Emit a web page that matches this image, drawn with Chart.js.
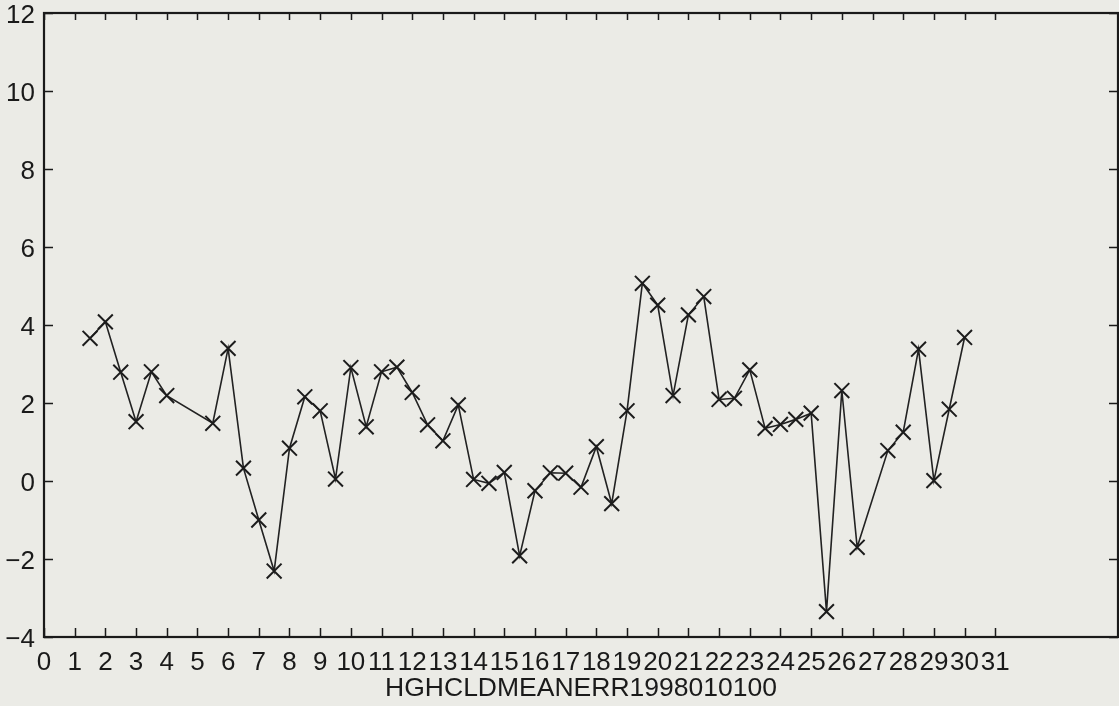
<!DOCTYPE html>
<html>
<head>
<meta charset="utf-8">
<title>HGHCLDMEANERR1998010100</title>
<script src="https://cdn.jsdelivr.net/npm/chart.js@4/dist/chart.umd.min.js"></script>
<style>
  html, body { margin: 0; padding: 0; background: #ebebe6; }
  #wrap { width: 1119px; height: 706px; }
</style>
</head>
<body>
<div id="wrap"><canvas id="c" width="1119" height="706"></canvas></div>
<script>
// Time of each analysis (day of month, 00 and 12 UTC) and the mean error
const days = [1.5, 2, 2.5, 3, 3.5, 4, 5.5, 6, 6.5, 7, 7.5, 8, 8.5, 9, 9.5,
  10, 10.5, 11, 11.5, 12, 12.5, 13, 13.5, 14, 14.5, 15, 15.5, 16, 16.5, 17,
  17.5, 18, 18.5, 19, 19.5, 20, 20.5, 21, 21.5, 22, 22.5, 23, 23.5, 24, 24.5,
  25, 25.5, 26, 26.5, 27.5, 28, 28.5, 29, 29.5, 30];
const meanErr = [3.66, 4.08, 2.79, 1.52, 2.80, 2.19, 1.48, 3.40, 0.33, -1.00,
  -2.31, 0.84, 2.16, 1.80, 0.05, 2.91, 1.39, 2.80, 2.92, 2.27, 1.44, 1.03,
  1.95, 0.04, -0.06, 0.22, -1.92, -0.25, 0.21, 0.20, -0.16, 0.88, -0.58, 1.80,
  5.07, 4.51, 2.19, 4.26, 4.73, 2.09, 2.12, 2.85, 1.35, 1.45, 1.58, 1.74,
  -3.35, 2.32, -1.70, 0.78, 1.25, 3.38, 0.01, 1.84, 3.68];

// Axis ticks
const xTickValues = [0, 1, 2, 3, 4, 5, 6, 7, 8, 9, 10, 11, 12, 13, 14, 15,
  16, 17, 18, 19, 20, 21, 22, 23, 24, 25, 26, 27, 28, 29, 30, 31];
const yTickValues = [-4, -2, 0, 2, 4, 6, 8, 10, 12];
const yTickLabels = ['\u22124', '\u22122', '0', '2', '4', '6', '8', '10', '12'];
const xTitle = 'HGHCLDMEANERR1998010100';

const points = days.map((d, i) => ({ x: d, y: meanErr[i] }));
const FONT = '"Liberation Sans", Arial, Helvetica, sans-serif';
const INK = '#1a1a1a';

// Paper background, box frame and inward tick marks on all four sides
const framePlugin = {
  id: 'frame',
  beforeDraw(chart) {
    const ctx = chart.ctx;
    ctx.save();
    ctx.fillStyle = '#ebebe6';
    ctx.fillRect(0, 0, chart.width, chart.height);
    ctx.restore();
  },
  afterDraw(chart) {
    const { ctx, chartArea: a, scales } = chart;
    ctx.save();
    ctx.strokeStyle = INK;
    ctx.lineWidth = 1.5;
    ctx.beginPath();
    xTickValues.forEach(v => {
      const px = Math.round(scales.x.getPixelForValue(v)) + 0.5;
      ctx.moveTo(px, a.bottom); ctx.lineTo(px, a.bottom - 9);
      ctx.moveTo(px, a.top); ctx.lineTo(px, a.top + 7);
    });
    yTickValues.forEach(v => {
      const py = Math.round(scales.y.getPixelForValue(v)) + 0.5;
      ctx.moveTo(a.left, py); ctx.lineTo(a.left + 9, py);
      ctx.moveTo(a.right, py); ctx.lineTo(a.right - 9, py);
    });
    ctx.stroke();
    ctx.lineWidth = 2.2;
    ctx.strokeRect(a.left, a.top, a.right - a.left, a.bottom - a.top);
    ctx.restore();
  }
};

new Chart(document.getElementById('c'), {
  type: 'scatter',
  data: {
    datasets: [{
      data: points,
      showLine: true,
      borderColor: '#222222',
      borderWidth: 1.6,
      pointStyle: 'crossRot',
      pointRadius: 10.5,
      pointHoverRadius: 10.5,
      pointBorderWidth: 2,
      pointBorderColor: '#1c1c1c',
      pointBackgroundColor: 'transparent',
      tension: 0
    }]
  },
  options: {
    responsive: false,
    devicePixelRatio: 1,
    animation: false,
    events: [],
    layout: { autoPadding: false, padding: { left: 0, right: 1, top: 13, bottom: 0 } },
    plugins: { legend: { display: false }, tooltip: { enabled: false } },
    scales: {
      x: {
        type: 'linear',
        min: 0,
        max: 35,
        afterBuildTicks: s => { s.ticks = xTickValues.map(v => ({ value: v })); },
        afterFit: s => { s.height = 69; s.paddingLeft = 0; s.paddingRight = 0; },
        grid: { display: false, drawTicks: false },
        border: { display: false },
        ticks: {
          autoSkip: false,
          maxRotation: 0,
          minRotation: 0,
          padding: 13,
          color: INK,
          font: { family: FONT, size: 26, lineHeight: 1 },
          callback: v => String(v)
        },
        title: {
          display: true,
          text: xTitle,
          color: INK,
          font: { family: FONT, size: 26.5, lineHeight: 1.2 },
          padding: { top: 0, bottom: 1 }
        }
      },
      y: {
        type: 'linear',
        min: -4,
        max: 12,
        afterBuildTicks: s => { s.ticks = yTickValues.map(v => ({ value: v })); },
        afterFit: s => { s.width = 44; s.paddingTop = 0; s.paddingBottom = 0; },
        grid: { display: false, drawTicks: false },
        border: { display: false },
        ticks: {
          padding: 9,
          labelOffset: 2.5,
          color: INK,
          font: { family: FONT, size: 26, lineHeight: 1 },
          callback: v => yTickLabels[yTickValues.indexOf(v)]
        }
      }
    }
  },
  plugins: [framePlugin]
});
</script>
</body>
</html>
